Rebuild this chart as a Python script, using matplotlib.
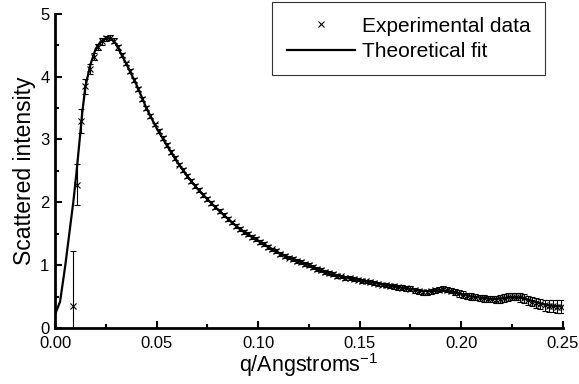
import matplotlib
matplotlib.use("Agg")
import matplotlib.pyplot as plt
from matplotlib.ticker import MultipleLocator, FormatStrFormatter

plt.rcParams['font.family'] = ['Liberation Sans', 'DejaVu Sans']
plt.rcParams['mathtext.fontset'] = 'custom'
plt.rcParams['mathtext.rm'] = 'Liberation Sans'

# experimental points (q in 1/A, intensity, error)
q_exp = [0.009, 0.011, 0.013, 0.015, 0.017, 0.019, 0.021, 0.023, 0.025, 0.027,
         0.029, 0.031, 0.033, 0.035, 0.037, 0.039, 0.041, 0.043, 0.045, 0.047,
         0.049, 0.051, 0.053, 0.055, 0.057, 0.059, 0.061, 0.063, 0.065, 0.067,
         0.069, 0.071, 0.073, 0.075, 0.077, 0.079, 0.081, 0.083, 0.085, 0.087,
         0.089, 0.091, 0.093, 0.095, 0.097, 0.099, 0.101, 0.103, 0.105, 0.107,
         0.109, 0.111, 0.113, 0.115, 0.117, 0.119, 0.121, 0.123, 0.125, 0.127,
         0.129, 0.131, 0.133, 0.135, 0.137, 0.139, 0.141, 0.143, 0.145, 0.147,
         0.149, 0.151, 0.153, 0.155, 0.157, 0.159, 0.161, 0.163, 0.165, 0.167,
         0.169, 0.171, 0.173, 0.175, 0.177, 0.179, 0.181, 0.183, 0.185, 0.187,
         0.189, 0.191, 0.193, 0.195, 0.197, 0.199, 0.201, 0.203, 0.205, 0.207,
         0.209, 0.211, 0.213, 0.215, 0.217, 0.219, 0.221, 0.223, 0.225, 0.227,
         0.229, 0.231, 0.233, 0.235, 0.237, 0.239, 0.241, 0.243, 0.245, 0.247,
         0.249]
i_exp = [0.35, 2.28, 3.30, 3.85, 4.12, 4.32, 4.47, 4.56, 4.61, 4.62,
         4.57, 4.47, 4.34, 4.21, 4.09, 3.95, 3.80, 3.64, 3.50, 3.37,
         3.24, 3.13, 3.02, 2.91, 2.80, 2.70, 2.60, 2.51, 2.42, 2.34,
         2.26, 2.19, 2.12, 2.05, 1.99, 1.93, 1.86, 1.80, 1.74, 1.68,
         1.62, 1.57, 1.53, 1.49, 1.45, 1.41, 1.37, 1.33, 1.29, 1.25,
         1.22, 1.18, 1.15, 1.12, 1.10, 1.07, 1.05, 1.02, 1.00, 0.97,
         0.94, 0.92, 0.89, 0.87, 0.86, 0.83, 0.82, 0.80, 0.79, 0.78,
         0.77, 0.75, 0.74, 0.73, 0.72, 0.70, 0.69, 0.68, 0.67, 0.66,
         0.65, 0.64, 0.63, 0.62, 0.60, 0.58, 0.57, 0.57, 0.58, 0.60,
         0.61, 0.62, 0.61, 0.59, 0.57, 0.55, 0.53, 0.51, 0.50, 0.49,
         0.48, 0.47, 0.46, 0.46, 0.45, 0.46, 0.48, 0.49, 0.50, 0.50,
         0.49, 0.47, 0.44, 0.42, 0.40, 0.38, 0.36, 0.35, 0.35, 0.34,
         0.34]
e_exp = [0.88, 0.33, 0.19, 0.12, 0.08, 0.06, 0.05, 0.05, 0.04, 0.04,
         0.04, 0.04, 0.03, 0.03, 0.03, 0.03, 0.03, 0.03, 0.03, 0.03,
         0.03, 0.03, 0.03, 0.03, 0.03, 0.03, 0.03, 0.03, 0.03, 0.03,
         0.03, 0.03, 0.03, 0.03, 0.03, 0.03, 0.03, 0.03, 0.03, 0.03,
         0.03, 0.03, 0.03, 0.03, 0.03, 0.03, 0.03, 0.03, 0.03, 0.03,
         0.03, 0.03, 0.03, 0.03, 0.03, 0.03, 0.03, 0.03, 0.03, 0.03,
         0.03, 0.03, 0.03, 0.03, 0.03, 0.03, 0.03, 0.03, 0.03, 0.03,
         0.03, 0.03, 0.03, 0.03, 0.03, 0.03, 0.03, 0.03, 0.03, 0.04,
         0.04, 0.04, 0.04, 0.04, 0.04, 0.04, 0.04, 0.04, 0.04, 0.04,
         0.04, 0.04, 0.04, 0.04, 0.05, 0.05, 0.05, 0.05, 0.05, 0.05,
         0.05, 0.05, 0.05, 0.05, 0.06, 0.06, 0.06, 0.06, 0.06, 0.06,
         0.07, 0.07, 0.07, 0.07, 0.08, 0.08, 0.09, 0.09, 0.10, 0.10,
         0.11]

# theoretical fit curve
q_fit = [0.0, 0.0025, 0.005, 0.0075, 0.009, 0.0105, 0.012, 0.0135, 0.015, 0.0175,
         0.02, 0.0225, 0.025, 0.0275, 0.03, 0.035, 0.04, 0.045, 0.05, 0.055,
         0.06, 0.065, 0.07, 0.075, 0.08, 0.085, 0.09, 0.095, 0.1, 0.105,
         0.11, 0.115, 0.12, 0.125, 0.13, 0.135, 0.14, 0.145, 0.15, 0.155,
         0.16, 0.165, 0.17, 0.175, 0.18, 0.185, 0.19, 0.195, 0.2, 0.205,
         0.21, 0.215, 0.22, 0.225, 0.23, 0.235, 0.24, 0.245, 0.25]
i_fit = [0.21, 0.42, 0.98, 1.62, 2.00, 2.45, 2.95, 3.45, 3.85, 4.20,
         4.44, 4.56, 4.61, 4.61, 4.52, 4.21, 3.88, 3.50, 3.18, 2.91,
         2.65, 2.42, 2.22, 2.05, 1.89, 1.74, 1.60, 1.49, 1.39, 1.29,
         1.20, 1.12, 1.06, 1.00, 0.93, 0.87, 0.83, 0.79, 0.76, 0.73,
         0.70, 0.67, 0.645, 0.62, 0.59, 0.585, 0.60, 0.58, 0.54, 0.50,
         0.48, 0.46, 0.47, 0.49, 0.48, 0.43, 0.38, 0.35, 0.34]

fig = plt.figure(figsize=(5.79, 3.84), dpi=100)
ax = fig.add_axes([0.095, 0.146, 0.877, 0.818])

ax.plot(q_fit, i_fit, color='black', lw=1.6, label='Theoretical fit', zorder=2)
ax.errorbar(q_exp, i_exp, yerr=e_exp, fmt='x', color='black', ms=4.5, mew=0.8,
            elinewidth=0.8, capsize=2.5, capthick=0.8, label='Experimental data', zorder=3)

ax.set_xlim(0, 0.25)
ax.set_ylim(0, 5)
ax.xaxis.set_major_locator(MultipleLocator(0.05))
ax.xaxis.set_minor_locator(MultipleLocator(0.025))
ax.xaxis.set_major_formatter(FormatStrFormatter('%.2f'))
ax.yaxis.set_major_locator(MultipleLocator(1))
ax.yaxis.set_minor_locator(MultipleLocator(0.5))
ax.tick_params(which='both', direction='in', width=1.5, labelsize=12)
ax.tick_params(axis='x', pad=6)
ax.tick_params(axis='y', pad=4)
ax.tick_params(which='major', length=5)
ax.tick_params(which='minor', length=3)
for s in ['top', 'right']:
    ax.spines[s].set_visible(False)
for s in ['left', 'bottom']:
    ax.spines[s].set_linewidth(2)

ax.set_xlabel('q/Angstroms$^{\\mathrm{-1}}$', fontsize=15.5, labelpad=0)
ax.set_ylabel('Scattered intensity', fontsize=16.5, labelpad=3)

h, l = ax.get_legend_handles_labels()
leg = fig.legend([h[1][0], h[0]], [l[1], l[0]], loc='upper left',
                 bbox_to_anchor=(272/579, 1 - 2/384), borderaxespad=0,
                 fontsize=15, frameon=True, fancybox=False, edgecolor='black',
                 handlelength=3.3, handletextpad=0.3, borderpad=0.7,
                 labelspacing=0.3)
leg.get_frame().set_linewidth(0.8)

fig.savefig('out.png', dpi=100)
